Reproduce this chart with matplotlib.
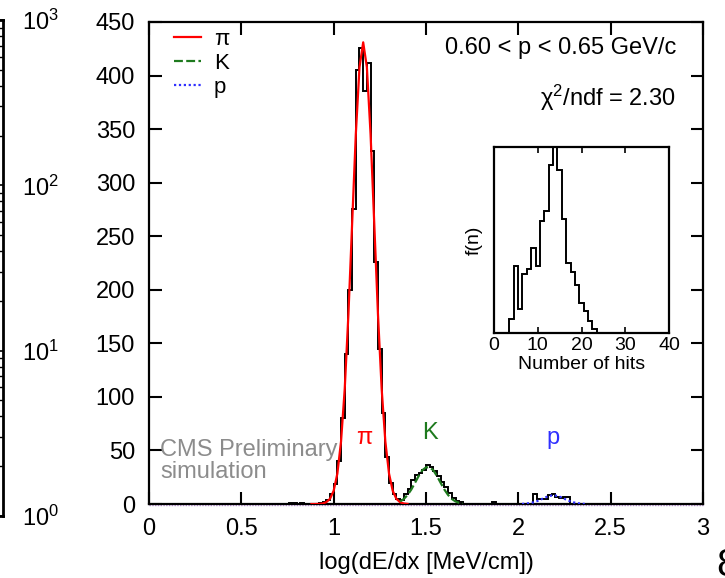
import numpy as np
import matplotlib
matplotlib.use('Agg')
import matplotlib.pyplot as plt
from matplotlib.lines import Line2D

plt.rcParams['font.family'] = ['Liberation Sans', 'DejaVu Sans']
plt.rcParams['mathtext.fontset'] = 'custom'
plt.rcParams['mathtext.rm'] = 'Liberation Sans'
plt.rcParams['mathtext.it'] = 'Liberation Sans:italic'

# log(dE/dx) histogram: 0.02 wide bins starting at 0.74
bin_lo = 0.74
bin_w = 0.02
counts = [0, 1, 1, 0, 1, 0, 0, 0, 0, 1,
          2, 4, 9, 19, 40, 80, 140, 200, 275, 405,
          426, 386, 412, 330, 226, 145, 85, 44, 20, 9,
          5, 4, 9, 14, 22, 27, 29, 32, 36, 35,
          31, 26, 21, 16, 10, 6, 3, 2, 0,
          0, 0, 0, 0, 0, 0, 0, 2, 0, 0,
          0, 0, 0, 0, 0, 0, 0, 0,
          9, 5, 5, 5, 8, 9, 7, 6, 7, 7, 0, 0]

# fitted shapes for each species
pi_x = [0.88, 0.90, 0.92, 0.94, 0.96, 0.98, 1.00, 1.02, 1.04, 1.06, 1.08, 1.10, 1.12, 1.14,
        1.16, 1.18, 1.20, 1.22, 1.24, 1.26, 1.28, 1.30, 1.32, 1.34, 1.36, 1.38, 1.40]
pi_y = [0.0, 0.0, 0.1, 0.5, 1.7, 4.8, 12.3, 28.3, 58.3, 107.5, 177.2, 261.4, 345.1, 407.7,
        431.0, 407.7, 345.1, 261.4, 177.2, 107.5, 58.3, 28.3, 12.3, 4.8, 1.7, 0.5, 0.1]

k_x = [1.36, 1.38, 1.40, 1.42, 1.44, 1.46, 1.48, 1.50, 1.52, 1.54, 1.56, 1.58, 1.60,
       1.62, 1.64, 1.66, 1.68, 1.70]
k_y = [2.4, 4.7, 8.4, 13.4, 19.6, 26.0, 31.5, 34.2, 34.2, 31.5, 26.0, 19.6, 13.4,
       8.4, 4.7, 2.4, 1.1, 0.5]

p_x = [2.02, 2.04, 2.06, 2.08, 2.10, 2.12, 2.14, 2.16, 2.18, 2.20, 2.22, 2.24, 2.26,
       2.28, 2.30, 2.32, 2.34, 2.36]
p_y = [0.1, 0.35, 0.8, 1.5, 2.6, 4.0, 5.7, 7.1, 7.9, 7.9, 7.1, 5.7, 4.0,
       2.6, 1.5, 0.8, 0.35, 0.1]

# number of hits per track
nhits = list(range(4, 24))
f_n = [42, 198, 70, 175, 190, 253, 200, 332, 362, 498,
       600, 485, 340, 207, 182, 142, 90, 65, 35, 12]

edges = bin_lo + bin_w * np.arange(len(counts) + 1)
hit_edges = np.arange(nhits[0] - 0.5, nhits[-1] + 1.0, 1.0)

fig = plt.figure(figsize=(7.25, 5.78), dpi=100)

# main panel
ax = fig.add_axes([0.2055, 0.128, 0.7641, 0.834])
ax.stairs(counts, edges, color='black', lw=1.4, zorder=2)
ax.axhline(-1.2, color='#b48ad0', lw=1.0, ls=(0, (1, 1)), clip_on=False, zorder=1)
ax.plot(pi_x, pi_y, color='#ff0000', lw=1.6, zorder=3)
ax.plot(k_x, k_y, color='#1e7a1e', lw=1.6, ls=(0, (4, 1.5)), zorder=3)
ax.plot(p_x, p_y, color='#3030ff', lw=1.6, ls=(0, (1, 1.2)), zorder=3)

ax.set_xlim(0, 3)
ax.set_ylim(0, 450)
ax.set_xticks([0, 0.5, 1, 1.5, 2, 2.5, 3])
ax.set_xticklabels(['0', '0.5', '1', '1.5', '2', '2.5', '3'])
ax.set_yticks(np.arange(0, 451, 50))
ax.tick_params(direction='in', length=9, width=1.5, labelsize=17, top=True, right=True, pad=10)
for s in ax.spines.values():
    s.set_linewidth(1.6)
ax.set_xlabel('log(dE/dx [MeV/cm])', fontsize=17, labelpad=9)

handles = [Line2D([], [], color='#ff0000', lw=1.6),
           Line2D([], [], color='#1e7a1e', lw=1.6, ls=(0, (4, 1.5))),
           Line2D([], [], color='#3030ff', lw=1.6, ls=(0, (1, 1.2)))]
ax.legend(handles, ['π', 'K', 'p'], loc='upper left', bbox_to_anchor=(0.045, 0.985),
          frameon=False, fontsize=16, handlelength=1.2, handletextpad=0.6,
          labelspacing=0.12, borderpad=0, borderaxespad=0)

ax.text(2.855, 426, '0.60 < p < 0.65 GeV/c', fontsize=17, ha='right', va='center')
ax.text(2.855, 379, 'χ$^{2}$/ndf = 2.30', fontsize=17, ha='right', va='center')
ax.text(1.164, 62, 'π', fontsize=17, color='#ff0000', ha='center', va='center')
ax.text(1.52, 66, 'K', fontsize=17, color='#1e7a1e', ha='center', va='center')
ax.text(2.19, 62, 'p', fontsize=17, color='#3030ff', ha='center', va='center')
ax.text(0.06, 40, 'CMS Preliminary\nsimulation', fontsize=17, color='#8c8c8c',
        ha='left', va='center', linespacing=1.0)

# hits inset
ins = fig.add_axes([0.6814, 0.4239, 0.2414, 0.3218])
ins.stairs(f_n, hit_edges, color='black', lw=1.4)
ins.set_xlim(0, 40)
ins.set_ylim(0, 553)
ins.set_xticks([0, 10, 20, 30, 40])
ins.set_yticks([])
ins.tick_params(direction='in', length=4, width=1.2, labelsize=14, top=True, pad=3)
for s in ins.spines.values():
    s.set_linewidth(1.6)
ins.set_xlabel('Number of hits', fontsize=14, labelpad=1)
ins.set_ylabel('f(n)', fontsize=14, labelpad=8)

# log colour scale of the neighbouring panel
cax = fig.add_axes([-0.05, 0.1073, 0.0541, 0.858])
cax.set_yscale('log')
cax.set_ylim(1, 1000)
cax.set_xticks([])
cax.yaxis.tick_right()
cax.tick_params(axis='y', which='both', direction='in', right=True, left=False,
                labelsize=17, pad=14)
cax.tick_params(axis='y', which='major', length=8, width=1.2)
cax.tick_params(axis='y', which='minor', length=4, width=1.0)
for s in cax.spines.values():
    s.set_linewidth(2.0)

fig.text(0.9876, 0.004, '8', fontsize=28, ha='left', va='baseline')

fig.savefig('out.png', dpi=100)
